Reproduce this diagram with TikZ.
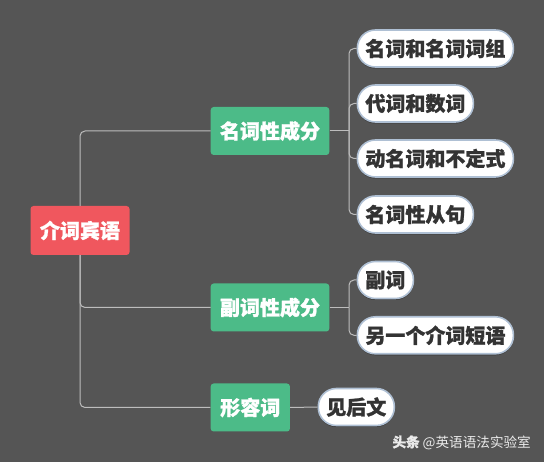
\documentclass[tikz,border=0pt]{standalone}
\usepackage{fontspec}
\setmainfont{Noto Sans CJK SC}[BoldFeatures={FakeBold=1.2}]
\usetikzlibrary{shadows}
\definecolor{bgc}{HTML}{555555}
\definecolor{rootc}{HTML}{F0575E}
\definecolor{greenc}{HTML}{4CBB88}
\definecolor{pillborder}{HTML}{AFC0D4}
\definecolor{linec}{HTML}{BDBDBD}
\definecolor{txtc}{HTML}{333333}
\tikzset{
  x=1pt, y=-1pt,
  rootbox/.style={fill=rootc, rounded corners=3pt, minimum width=99pt, minimum height=49pt, inner sep=0pt, text=white, font=\fontsize{20}{22}\selectfont\bfseries},
  greenbox/.style={fill=greenc, rounded corners=3pt, minimum height=48pt, inner sep=0pt, text=white, font=\fontsize{20}{22}\selectfont\bfseries},
  pill/.style={fill=white, draw=pillborder, line width=1.6pt, rounded corners=18pt, minimum height=37pt, inner sep=0pt, text=txtc, font=\fontsize{20}{22}\selectfont\bfseries,
    drop shadow={shadow xshift=0pt, shadow yshift=-1.5pt, fill=black, opacity=0.35}},
  conn/.style={draw=linec, line width=1pt, rounded corners=5pt},
}
\begin{document}
\begin{tikzpicture}
\fill[bgc] (0,0) rectangle (544,462);
\useasboundingbox (0,0) rectangle (544,462);

\node[rootbox] (root) at (80,230.5) {介词宾语};

\node[greenbox, minimum width=118.6pt] (g1) at (270,131) {名词性成分};
\node[greenbox, minimum width=118.6pt] (g2) at (270,307.5) {副词性成分};
\node[greenbox, minimum width=79.3pt] (g3) at (250.3,407.5) {形容词};

\node[pill, minimum width=156pt] (p1) at (435.4,48.5) {名词和名词词组};
\node[pill, minimum width=116pt] (p2) at (415.4,103.5) {代词和数词};
\node[pill, minimum width=156pt] (p3) at (435.4,158.5) {动名词和不定式};
\node[pill, minimum width=116pt] (p4) at (415.4,214.5) {名词性从句};
\node[pill, minimum width=56pt] (p5) at (385.4,280) {副词};
\node[pill, minimum width=156pt] (p6) at (435.4,335.3) {另一个介词短语};
\node[pill, minimum width=76pt] (p7) at (356.3,407) {见后文};

\coordinate (j1) at (349,131);
\coordinate (j2) at (349,307.5);

\draw[conn] (root.north) |- (g1.west);
\draw[conn] (root.south) |- (g2.west);
\draw[conn] (root.south) |- (g3.west);

\draw[conn] (g1.east) -- (j1);
\draw[conn] (j1) |- (p1.west);
\draw[conn] (j1) |- (p2.west);
\draw[conn] (j1) |- (p3.west);
\draw[conn] (j1) |- (p4.west);

\draw[conn] (g2.east) -- (j2);
\draw[conn] (j2) |- (p5.west);
\draw[conn] (j2) |- (p6.west);

\draw[conn] (g3.east) -- (p7.west);

\node[text=white!92!black, anchor=east, inner sep=0pt, font=\fontsize{13.6}{15}\selectfont] (wm) at (531,442.5) {\textbf{头条} @英语语法实验室};
\end{tikzpicture}
\end{document}
